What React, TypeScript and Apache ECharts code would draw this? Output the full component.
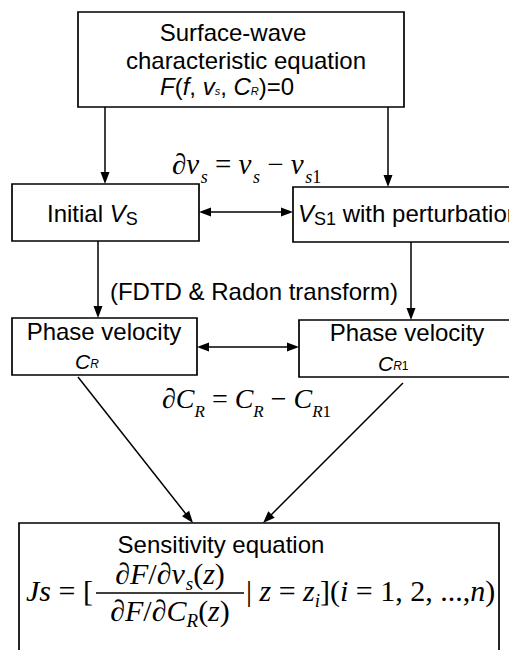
import React, { useEffect, useRef } from "react";
import * as echarts from "echarts";

const W = 509;
const H = 650;
const SANS = "Liberation Sans";
const SERIF = "Liberation Serif";

// ---- labels ----
const titleLines = ["Surface-wave", "characteristic equation"];
const transformLabel = "(FDTD & Radon transform)";
const phaseLabel = "Phase velocity";
const sensitivityLabel = "Sensitivity equation";

type Seg = { t: string; s: number; it?: boolean; dy?: number; ff?: string; dx?: number };

let measureCtx: CanvasRenderingContext2D | null = null;
function fontStr(sg: Seg, ff: string) {
  return `${sg.it ? "italic " : ""}${sg.s}px "${ff}"`;
}
function measure(t: string, font: string) {
  if (!measureCtx) measureCtx = document.createElement("canvas").getContext("2d");
  measureCtx!.font = font;
  return measureCtx!.measureText(t).width;
}

function run(x: number, y: number, segs: Seg[], ff: string, align: "left" | "center" = "left") {
  const widths = segs.map((sg) => measure(sg.t, fontStr(sg, sg.ff || ff)) + (sg.dx || 0));
  const total = widths.reduce((a, b) => a + b, 0);
  let cx = align === "center" ? x - total / 2 : x;
  const out: any[] = [];
  segs.forEach((sg, i) => {
    const px = cx + (sg.dx || 0);
    out.push({
      type: "text",
      x: px,
      y: y + (sg.dy || 0),
      silent: true,
      style: {
        text: sg.t,
        fontSize: sg.s,
        fontFamily: sg.ff || ff,
        fontStyle: sg.it ? "italic" : "normal",
        fill: "#000",
        textAlign: "left",
        textVerticalAlign: "middle",
      },
    });
    cx += widths[i];
  });
  return out;
}

function box(x: number, y: number, w: number, h: number) {
  return {
    type: "rect",
    silent: true,
    shape: { x, y, width: w, height: h },
    style: { fill: "none", stroke: "#000", lineWidth: 1.7 },
  };
}

function arrow(x1: number, y1: number, x2: number, y2: number, both = false) {
  const dx = x2 - x1;
  const dy = y2 - y1;
  const L = Math.hypot(dx, dy);
  const ux = dx / L;
  const uy = dy / L;
  const hl = 12;
  const hw = 4.5;
  const head = (tx: number, ty: number, vx: number, vy: number) => ({
    type: "polygon",
    silent: true,
    shape: {
      points: [
        [tx, ty],
        [tx - vx * hl - vy * hw, ty - vy * hl + vx * hw],
        [tx - vx * hl + vy * hw, ty - vy * hl - vx * hw],
      ],
    },
    style: { fill: "#000" },
  });
  const els: any[] = [];
  const sx = both ? x1 + ux * hl * 0.8 : x1;
  const sy = both ? y1 + uy * hl * 0.8 : y1;
  els.push({
    type: "line",
    silent: true,
    shape: { x1: sx, y1: sy, x2: x2 - ux * hl * 0.8, y2: y2 - uy * hl * 0.8 },
    style: { stroke: "#000", lineWidth: 1.5 },
  });
  els.push(head(x2, y2, ux, uy));
  if (both) els.push(head(x1, y1, -ux, -uy));
  return els;
}

function buildElements() {
  const els: any[] = [];
  // boxes
  els.push(box(78, 12, 326, 95));
  els.push(box(12, 184, 187, 57));
  els.push(box(293, 187, 240, 55));
  els.push(box(12, 318, 185, 57));
  els.push(box(299, 320, 240, 57));
  els.push(box(19, 523, 480, 150));

  // arrows
  els.push(...arrow(105, 107, 105, 184));
  els.push(...arrow(388, 107, 388, 187));
  els.push(...arrow(199, 212, 293, 212, true));
  els.push(...arrow(98, 241, 98, 318));
  els.push(...arrow(411, 242, 411, 320));
  els.push(...arrow(197, 347, 299, 347, true));
  els.push(...arrow(78, 377, 193, 523));
  els.push(...arrow(403, 383, 263, 523));

  // top box text
  els.push(...run(233, 32.5, [{ t: titleLines[0], s: 24 }], SANS, "center"));
  els.push(...run(246, 60.5, [{ t: titleLines[1], s: 24 }], SANS, "center"));
  els.push(
    ...run(160, 86.5, [
      { t: "F", s: 24, it: true },
      { t: "(", s: 24 },
      { t: "f", s: 24, it: true },
      { t: ", ", s: 24 },
      { t: "v", s: 24, it: true },
      { t: "s", s: 11, it: true, dy: 4.5 },
      { t: ", ", s: 24 },
      { t: "C", s: 24, it: true },
      { t: "R", s: 11, it: true, dy: 4.5 },
      { t: ")=0", s: 24 },
    ], SANS)
  );

  // dv equation
  els.push(
    ...run(172, 164, [
      { t: "\u2202", s: 29 },
      { t: "v", s: 29, it: true },
      { t: "s", s: 18, it: true, dy: 13, dx: 1.5 },
      { t: " = ", s: 29 },
      { t: "v", s: 29, it: true },
      { t: "s", s: 18, it: true, dy: 13, dx: 1.5 },
      { t: " \u2212 ", s: 29 },
      { t: "v", s: 29, it: true },
      { t: "s", s: 18, it: true, dy: 13, dx: 1.5 },
      { t: "1", s: 18, dy: 13 },
    ], SERIF)
  );

  // Initial Vs
  els.push(
    ...run(47, 213.5, [
      { t: "Initial ", s: 24 },
      { t: "V", s: 24, it: true },
      { t: "S", s: 18, dy: 5 },
    ], SANS)
  );
  // Vs1 with perturbation
  els.push(
    ...run(298, 213.5, [
      { t: "V", s: 24, it: true },
      { t: "S1", s: 18, dy: 5 },
      { t: " with perturbation", s: 24 },
    ], SANS)
  );

  els.push(...run(254, 291.5, [{ t: transformLabel, s: 24 }], SANS, "center"));

  // phase velocity boxes
  els.push(...run(104, 331.5, [{ t: phaseLabel, s: 24 }], SANS, "center"));
  els.push(
    ...run(75, 361, [
      { t: "C", s: 21, it: true },
      { t: "R", s: 12, it: true, dy: 3 },
    ], SANS)
  );
  els.push(...run(407, 332.5, [{ t: phaseLabel, s: 24 }], SANS, "center"));
  els.push(
    ...run(378, 363, [
      { t: "C", s: 21, it: true },
      { t: "R", s: 12, it: true, dy: 3 },
      { t: "1", s: 12, dy: 3 },
    ], SANS)
  );

  // dC equation
  els.push(
    ...run(162, 398.5, [
      { t: "\u2202", s: 28 },
      { t: "C", s: 28, it: true },
      { t: "R", s: 17, it: true, dy: 12.5 },
      { t: " = ", s: 28 },
      { t: "C", s: 28, it: true },
      { t: "R", s: 17, it: true, dy: 12.5 },
      { t: " \u2212 ", s: 28 },
      { t: "C", s: 28, it: true },
      { t: "R", s: 17, it: true, dy: 12.5 },
      { t: "1", s: 17, dy: 12.5 },
    ], SERIF)
  );

  // sensitivity box
  els.push(...run(221, 544, [{ t: sensitivityLabel, s: 24 }], SANS, "center"));
  const mainY = 590;
  els.push(
    ...run(26, mainY, [
      { t: "J", s: 30, it: true },
      { t: "s", s: 30, it: true },
      { t: " = ", s: 30 },
      { t: "[", s: 30 },
    ], SERIF)
  );
  const barX1 = 96;
  const barX2 = 244;
  const barY = 593;
  const barC = (barX1 + barX2) / 2;
  els.push({
    type: "line",
    silent: true,
    shape: { x1: barX1, y1: barY, x2: barX2, y2: barY },
    style: { stroke: "#000", lineWidth: 1.3 },
  });
  els.push(
    ...run(barC, 573, [
      { t: "\u2202", s: 30 },
      { t: "F", s: 30, it: true },
      { t: "/", s: 30 },
      { t: "\u2202", s: 30 },
      { t: "v", s: 30, it: true },
      { t: "s", s: 19, it: true, dy: 10, dx: 1 },
      { t: "(", s: 30 },
      { t: "z", s: 30, it: true },
      { t: ")", s: 30 },
    ], SERIF, "center")
  );
  els.push(
    ...run(barC, 610, [
      { t: "\u2202", s: 30 },
      { t: "F", s: 30, it: true },
      { t: "/", s: 30 },
      { t: "\u2202", s: 30 },
      { t: "C", s: 30, it: true },
      { t: "R", s: 19, it: true, dy: 10 },
      { t: "(", s: 30 },
      { t: "z", s: 30, it: true },
      { t: ")", s: 30 },
    ], SERIF, "center")
  );
  els.push(
    ...run(246, mainY, [
      { t: "| ", s: 30 },
      { t: "z", s: 30, it: true },
      { t: " = ", s: 30 },
      { t: "z", s: 30, it: true },
      { t: "i", s: 19, it: true, dy: 10 },
      { t: "](", s: 30 },
      { t: "i", s: 30, it: true },
      { t: " = 1, 2, ...,", s: 30 },
      { t: "n", s: 30, it: true },
      { t: ")", s: 30 },
    ], SERIF)
  );
  return els;
}

export default function App() {
  const ref = useRef<HTMLDivElement>(null);
  useEffect(() => {
    document.body.style.margin = "0";
    if (!ref.current) return;
    const chart = echarts.init(ref.current, null, { renderer: "svg", width: W, height: H });
    chart.setOption({
      animation: false,
      backgroundColor: "#fff",
      graphic: { elements: buildElements() },
    });
    return () => chart.dispose();
  }, []);
  return <div ref={ref} style={{ width: W, height: H, overflow: "hidden", background: "#fff" }} />;
}
